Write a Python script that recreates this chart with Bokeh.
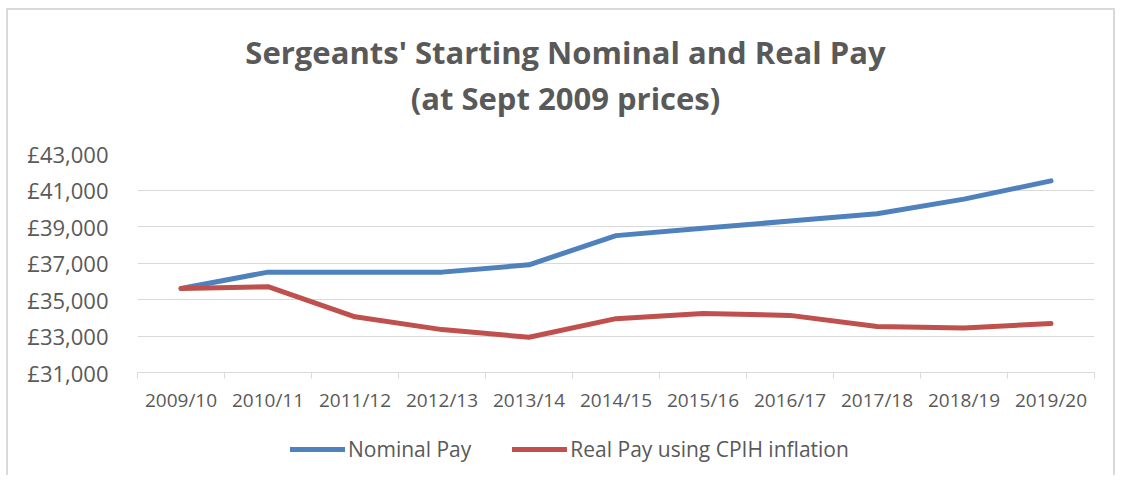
from bokeh.plotting import figure
from bokeh.models import (FixedTicker, Legend, LegendItem, Label, ColumnDataSource,
                          Range1d)
from bokeh.layouts import column
from bokeh.embed import file_html
from bokeh.resources import INLINE

years = ["2009/10", "2010/11", "2011/12", "2012/13", "2013/14", "2014/15",
         "2015/16", "2016/17", "2017/18", "2018/19", "2019/20"]
nominal = [35600, 36500, 36500, 36500, 36900, 38500, 38900, 39300, 39700, 40500, 41500]
real = [35600, 35700, 34050, 33350, 32930, 33950, 34230, 34130, 33520, 33440, 33680]
y_ticks = [31000, 33000, 35000, 37000, 39000, 41000, 43000]
title_line1 = "Sergeants' Starting Nominal and Real Pay"
title_line2 = "(at Sept 2009 prices)"
series_names = ["Nominal Pay", "Real Pay using CPIH inflation"]

GREY = "#595959"
GRID = "#D9D9D9"
FONT = "Open Sans"
BLUE = "#4F81BD"
RED = "#C0504D"
W = 1115
FL, FR = 137, 1094   # frame left / right (pixels), shared by the stacked figures

xpos = [i + 0.5 for i in range(len(years))]
src = ColumnDataSource(dict(x=xpos, nominal=nominal, real=real))

# ---- title strip ----
TH = 130
pt = figure(width=W, height=TH, output_backend="svg", toolbar_location=None,
            x_range=Range1d(FL, FR), y_range=Range1d(TH, 0),
            x_axis_type=None, y_axis_type=None, min_border=0,
            min_border_left=FL, min_border_right=W - FR)
pt.outline_line_color = None
pt.border_fill_color = None
pt.background_fill_color = None
pt.grid.visible = False
for txt, yy in ((title_line1, 51), (title_line2, 97)):
    pt.add_layout(Label(x=565, y=yy, text=txt, text_align="center",
                        text_baseline="middle", text_font=FONT, text_font_size="31px",
                        text_font_style="bold", text_color=GREY))

# ---- main chart ----
MH = 290
p = figure(width=W, height=MH, output_backend="svg", toolbar_location=None,
           x_range=(0, len(years)), y_range=(y_ticks[0], y_ticks[-1]),
           min_border_left=FL, min_border_right=W - FR, min_border_top=153 - TH,
           min_border_bottom=TH + MH - 372)
p.outline_line_color = None
p.border_fill_color = None

p.line("x", "nominal", source=src, line_color=BLUE, line_width=5,
       line_cap="round", line_join="round")
p.line("x", "real", source=src, line_color=RED, line_width=5,
       line_cap="round", line_join="round")

p.xaxis.ticker = FixedTicker(ticks=xpos, minor_ticks=list(range(len(years) + 1)))
p.xaxis.major_label_overrides = {x: y for x, y in zip(xpos, years)}
p.xaxis.major_tick_line_color = None
p.xaxis.minor_tick_line_color = GRID
p.xaxis.minor_tick_in = 0
p.xaxis.minor_tick_out = 6
p.xaxis.axis_line_color = GRID
p.xaxis.major_label_text_font = FONT
p.xaxis.major_label_text_font_size = "19px"
p.xaxis.major_label_text_color = GREY
p.xaxis.major_label_standoff = 8
p.xgrid.grid_line_color = None

p.yaxis.ticker = FixedTicker(ticks=y_ticks)
p.yaxis.major_label_overrides = {t: "£{:,}".format(t) for t in y_ticks}
p.yaxis.axis_line_color = None
p.yaxis.major_tick_line_color = None
p.yaxis.minor_tick_line_color = None
p.yaxis.major_label_text_font = FONT
p.yaxis.major_label_text_font_size = "22px"
p.yaxis.major_label_text_color = GREY
p.yaxis.major_label_standoff = 23
p.ygrid.grid_line_color = GRID
p.ygrid.grid_line_width = 1

# ---- legend strip ----
LH = 475 - TH - MH
pl = figure(width=W, height=LH, output_backend="svg", toolbar_location=None,
            x_range=Range1d(100, 101), y_range=Range1d(0, 1),
            x_axis_type=None, y_axis_type=None, min_border=0,
            min_border_left=FL, min_border_right=W - FR)
pl.outline_line_color = None
pl.border_fill_color = None
pl.background_fill_color = None
pl.grid.visible = False
l1 = pl.line("x", "nominal", source=src, line_color=BLUE, line_width=5, line_cap="round")
l2 = pl.line("x", "real", source=src, line_color=RED, line_width=5, line_cap="round")
legend = Legend(items=[LegendItem(label=series_names[0], renderers=[l1]),
                       LegendItem(label=series_names[1], renderers=[l2])],
                orientation="horizontal", location=(290 - FL, 12),
                label_text_font=FONT, label_text_font_size="21px", label_text_color=GREY,
                glyph_width=55, label_standoff=3, spacing=41,
                border_line_alpha=0, background_fill_alpha=0, margin=0, padding=0)
pl.add_layout(legend, "center")

layout = column(pt, p, pl, spacing=0)
g = "linear-gradient(#D9D9D9,#D9D9D9)"
layout.styles = {
    "background": (f"{g} 6px 8px / 2px 470px no-repeat, "
                   f"{g} 6px 8px / 1109px 2px no-repeat, "
                   f"{g} 1113px 8px / 2px 470px no-repeat, white"),
}

open("out.html", "w").write(file_html(layout, INLINE))
